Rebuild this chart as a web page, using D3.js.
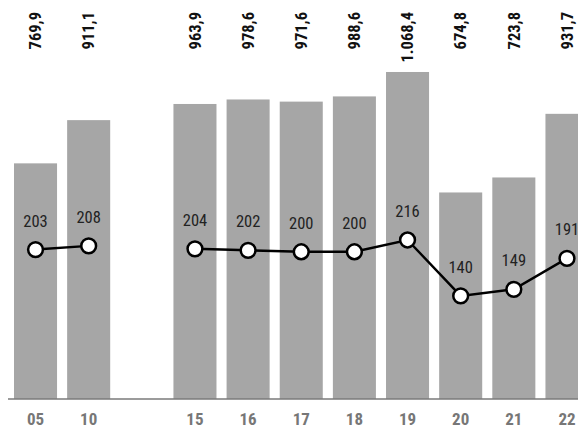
<!DOCTYPE html>
<html>
<head>
<meta charset="utf-8">
<script src="https://cdn.jsdelivr.net/npm/d3@7"></script>
<style>
  html, body { margin: 0; padding: 0; background: #fff; }
  svg { display: block; }
  text { font-family: "Liberation Sans Narrow", "Arial Narrow", "Roboto Condensed", sans-serif; }
</style>
</head>
<body>
<svg id="chart" width="578" height="429"></svg>
<script>
// Data (empty slot "" marks the gap between 10 and 15)
const categories = ["05", "10", "", "15", "16", "17", "18", "19", "20", "21", "22"];
const barValues  = [769.9, 911.1, null, 963.9, 978.6, 971.6, 988.6, 1068.4, 674.8, 723.8, 931.7];
const lineValues = [203, 208, null, 204, 202, 200, 200, 216, 140, 149, 191];

const W = 578, H = 429;
const baseY = 399;

const svg = d3.select("#chart");

const locale = d3.formatLocale({ decimal: ",", thousands: ".", grouping: [3], currency: ["", ""] });
const fmtBar = locale.format(",.1f");
const fmtLine = locale.format("d");

const rows = categories.map((c, i) => ({ key: c === "" ? "gap" : c, label: c, bar: barValues[i], line: lineValues[i] }));

const x = d3.scaleBand()
  .domain(rows.map(d => d.key))
  .range([14, 588.5])
  .paddingInner(0.19)
  .paddingOuter(0)
  .align(0);

const yBar = d3.scaleLinear().domain([0, 1303.6]).range([baseY, 0]);
const yLine = d3.scaleLinear().domain([0, 542]).range([baseY, 0]);

const barRows = rows.filter(d => d.bar != null);

// Bars
svg.append("g").selectAll("rect")
  .data(barRows)
  .join("rect")
  .attr("x", d => x(d.key))
  .attr("y", d => yBar(d.bar))
  .attr("width", x.bandwidth())
  .attr("height", d => baseY - yBar(d.bar))
  .attr("fill", "#a6a6a6");

// Baseline
svg.append("line")
  .attr("x1", 8).attr("x2", W)
  .attr("y1", baseY).attr("y2", baseY)
  .attr("stroke", "#7a7a7a")
  .attr("stroke-width", 1.5);

// Bottom axis labels
const axis = d3.axisBottom(x)
  .tickSize(0)
  .tickPadding(14)
  .tickFormat(k => k === "gap" ? "" : k);
const gAxis = svg.append("g")
  .attr("transform", `translate(0,${baseY})`)
  .call(axis);
gAxis.select(".domain").remove();
gAxis.selectAll("text")
  .attr("fill", "#777")
  .style("font-size", "17px")
  .style("font-weight", "bold")
  .style("font-family", "\"Liberation Sans Narrow\", \"Arial Narrow\", \"Roboto Condensed\", sans-serif");

// Top rotated value labels
svg.append("g").selectAll("text")
  .data(barRows)
  .join("text")
  .attr("transform", d => `translate(${x(d.key) + x.bandwidth() / 2},12) rotate(-90)`)
  .attr("text-anchor", "end")
  .attr("dy", "0.35em")
  .attr("fill", "#111")
  .style("font-size", "16.5px")
  .style("font-weight", "bold")
  .text(d => fmtBar(d.bar));

// Line
const line = d3.line()
  .defined(d => d.line != null)
  .x(d => x(d.key) + x.bandwidth() / 2)
  .y(d => yLine(d.line));

svg.append("path")
  .datum(rows)
  .attr("d", line)
  .attr("fill", "none")
  .attr("stroke", "#000")
  .attr("stroke-width", 2.4);

const lineRows = rows.filter(d => d.line != null);

svg.append("g").selectAll("circle")
  .data(lineRows)
  .join("circle")
  .attr("cx", d => x(d.key) + x.bandwidth() / 2)
  .attr("cy", d => yLine(d.line))
  .attr("r", 7.4)
  .attr("fill", "#fff")
  .attr("stroke", "#000")
  .attr("stroke-width", 2.5);

svg.append("g").selectAll("text")
  .data(lineRows)
  .join("text")
  .attr("x", d => x(d.key) + x.bandwidth() / 2)
  .attr("y", d => yLine(d.line) - 23)
  .attr("text-anchor", "middle")
  .attr("fill", "#222")
  .style("font-size", "16.5px")
  .text(d => fmtLine(d.line));
</script>
</body>
</html>
